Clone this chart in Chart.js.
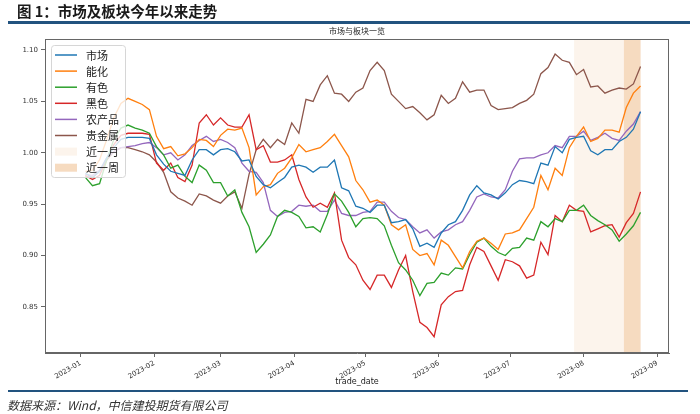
<!DOCTYPE html>
<html><head><meta charset="utf-8">
<script src="https://cdn.jsdelivr.net/npm/chart.js@4.4.0/dist/chart.umd.min.js"></script>
<style>
html,body{margin:0;padding:0;background:#fff;}
#wrap{position:relative;width:700px;height:414px;overflow:hidden;font-family:"Noto Sans CJK SC",sans-serif;}
#c{position:absolute;left:0;top:0;}
#hdr{position:absolute;left:17px;top:2px;font-size:14.5px;font-weight:bold;color:#1a1a1a;white-space:nowrap;line-height:18px;}
#rule1{position:absolute;left:8px;width:682px;top:21px;height:3px;background:#22537f;}
#rule2{position:absolute;left:8px;width:680px;top:390px;height:2px;background:#22537f;}
#ftr{position:absolute;left:7px;top:397px;font-size:12px;font-style:italic;color:#333;line-height:16px;white-space:nowrap;}
</style></head>
<body><div id="wrap"><canvas id="c" width="700" height="414"></canvas>
<div id="hdr">图 1：市场及板块今年以来走势</div><div id="rule1"></div><div id="rule2"></div>
<div id="ftr">数据来源：Wind，中信建投期货有限公司</div></div>
<script>
const dates = ['2023-01-03','2023-01-06','2023-01-09','2023-01-12','2023-01-15','2023-01-18','2023-01-21','2023-01-24','2023-01-27','2023-01-30',
'2023-02-02','2023-02-05','2023-02-08','2023-02-11','2023-02-14','2023-02-17','2023-02-20','2023-02-23','2023-02-26',
'2023-03-01','2023-03-04','2023-03-07','2023-03-10','2023-03-13','2023-03-16','2023-03-19','2023-03-22','2023-03-25','2023-03-28','2023-03-31',
'2023-04-03','2023-04-06','2023-04-09','2023-04-12','2023-04-15','2023-04-18','2023-04-21','2023-04-24','2023-04-27','2023-04-30',
'2023-05-03','2023-05-06','2023-05-09','2023-05-12','2023-05-15','2023-05-18','2023-05-21','2023-05-24','2023-05-27','2023-05-30',
'2023-06-02','2023-06-05','2023-06-08','2023-06-11','2023-06-14','2023-06-17','2023-06-20','2023-06-23','2023-06-26','2023-06-29',
'2023-07-02','2023-07-05','2023-07-08','2023-07-11','2023-07-14','2023-07-17','2023-07-20','2023-07-23','2023-07-26','2023-07-29',
'2023-08-01','2023-08-04','2023-08-07','2023-08-10','2023-08-13','2023-08-16','2023-08-19','2023-08-22','2023-08-25'];

const seriesNames = ['市场','能化','有色','黑色','农产品','贵金属'];
const seriesColors = ['#1f77b4','#ff7f0e','#2ca02c','#d62728','#9467bd','#8c564b'];

const market = [0.980,0.976,0.982,0.995,1.005,1.013,1.015,1.015,1.015,1.014,
0.998,0.989,0.982,0.980,0.978,0.993,1.003,1.003,0.998,
1.003,1.004,1.001,0.992,0.993,0.977,0.969,0.966,0.971,0.976,0.986,
0.988,0.986,0.981,0.986,0.986,0.993,0.966,0.963,0.948,0.946,
0.942,0.949,0.949,0.932,0.933,0.935,0.926,0.909,0.912,0.908,
0.922,0.930,0.933,0.944,0.959,0.968,0.961,0.959,0.955,0.961,
0.969,0.973,0.972,0.970,0.990,0.988,1.006,1.000,1.013,1.015,
1.016,1.002,0.998,1.003,1.003,1.011,1.015,1.023,1.040];

const energy = [0.982,0.983,0.993,1.013,1.034,1.048,1.053,1.050,1.047,1.042,
1.016,1.004,1.006,0.997,0.999,1.005,1.013,1.012,1.006,
1.017,1.023,1.022,1.024,1.005,0.959,0.967,0.969,0.980,0.985,0.995,
1.008,1.001,1.003,1.005,1.011,1.018,1.007,0.996,0.973,0.964,
0.952,0.954,0.949,0.930,0.925,0.930,0.906,0.900,0.902,0.891,
0.915,0.910,0.899,0.888,0.904,0.914,0.917,0.912,0.906,0.921,
0.922,0.925,0.936,0.947,0.978,0.964,0.985,0.978,1.005,1.016,
1.025,1.011,1.014,1.022,1.022,1.020,1.044,1.058,1.065];

const nonferrous = [0.976,0.968,0.970,0.993,1.013,1.024,1.027,1.024,1.022,1.019,
1.006,0.998,0.985,0.988,0.977,0.971,0.988,0.983,0.971,
0.971,0.958,0.964,0.942,0.928,0.903,0.911,0.920,0.938,0.944,0.942,
0.938,0.927,0.928,0.923,0.940,0.960,0.953,0.942,0.928,0.936,
0.937,0.936,0.929,0.910,0.893,0.886,0.876,0.861,0.873,0.874,
0.883,0.881,0.888,0.887,0.901,0.913,0.917,0.909,0.903,0.900,
0.907,0.908,0.917,0.915,0.933,0.928,0.936,0.933,0.944,0.944,
0.949,0.939,0.934,0.930,0.925,0.914,0.921,0.929,0.942];

const ferrous = [0.978,0.974,0.978,0.993,1.008,1.017,1.019,1.019,1.019,1.018,
0.990,0.983,0.990,0.976,0.972,0.988,1.029,1.037,1.027,
1.034,1.027,1.025,1.025,1.037,1.003,1.007,0.991,0.991,0.993,0.998,
0.974,0.957,0.947,0.951,0.947,0.961,0.915,0.898,0.891,0.876,
0.867,0.881,0.881,0.869,0.886,0.900,0.865,0.835,0.830,0.821,
0.852,0.860,0.865,0.866,0.891,0.908,0.904,0.890,0.876,0.896,
0.894,0.890,0.878,0.881,0.913,0.901,0.939,0.933,0.949,0.944,
0.943,0.923,0.926,0.929,0.930,0.918,0.932,0.941,0.962];

const agri = [0.979,0.978,0.983,0.995,1.001,1.005,1.006,1.007,1.009,1.010,
1.005,0.998,1.000,0.993,0.998,1.007,1.012,1.016,1.011,
1.013,1.010,1.005,0.990,0.982,0.981,0.971,0.944,0.938,0.942,0.943,
0.949,0.948,0.949,0.943,0.943,0.954,0.941,0.939,0.939,0.942,
0.943,0.952,0.952,0.943,0.937,0.935,0.928,0.922,0.925,0.917,
0.923,0.925,0.930,0.933,0.944,0.957,0.960,0.957,0.956,0.964,
0.982,0.994,0.995,0.995,0.998,1.000,1.007,1.005,1.016,1.016,
1.021,1.012,1.015,1.019,1.014,1.012,1.021,1.028,1.040];

const precious = [0.977,0.976,0.982,0.993,1.001,1.005,1.005,1.003,1.001,0.998,
0.991,0.981,0.962,0.956,0.953,0.949,0.960,0.958,0.954,
0.951,0.958,0.962,0.946,0.979,1.003,1.013,1.005,1.013,1.008,1.029,
1.019,1.052,1.050,1.066,1.075,1.058,1.057,1.050,1.059,1.063,
1.080,1.088,1.080,1.057,1.050,1.043,1.045,1.039,1.032,1.037,
1.056,1.048,1.053,1.069,1.059,1.061,1.061,1.046,1.042,1.043,
1.044,1.048,1.051,1.057,1.077,1.083,1.096,1.090,1.088,1.076,
1.081,1.064,1.065,1.058,1.061,1.063,1.062,1.067,1.084];

const seriesValues = [market, energy, nonferrous, ferrous, agri, precious];

const xTickLabels = ['2023-01','2023-02','2023-03','2023-04','2023-05','2023-06','2023-07','2023-08','2023-09'];
const yTicks = [0.85,0.90,0.95,1.00,1.05,1.10];
const monthSpan = ['2023-07-28','2023-08-25'];
const weekSpan = ['2023-08-18','2023-08-25'];
const spanNames = ['近一月','近一周'];
const spanColors = ['rgb(252,244,236)','rgb(246,219,192)'];
const xRange = ['2022-12-17','2023-09-06'];
const yRange = [0.8052, 1.1107];

function dayNum(s){const p=s.split('-').map(Number);return (Date.UTC(p[0],p[1]-1,p[2])-Date.UTC(2023,0,1))/86400000;}

const datasets = seriesNames.map((n,i)=>({
  label:n,
  data: dates.map((d,j)=>({x:dayNum(d), y:seriesValues[i][j]})),
  borderColor:seriesColors[i], borderWidth:1.3, pointRadius:0, fill:false, tension:0
}));

const deco = {
  id:'deco',
  beforeDatasetsDraw(chart){
    const {ctx, chartArea:a, scales:{x}} = chart;
    ctx.save();
    [monthSpan, weekSpan].forEach((sp,i)=>{
      const x0=x.getPixelForValue(dayNum(sp[0])), x1=x.getPixelForValue(dayNum(sp[1]));
      ctx.fillStyle=spanColors[i];
      ctx.fillRect(x0,a.top,x1-x0,a.bottom-a.top);
    });
    ctx.restore();
  },
  afterDatasetsDraw(chart){
    const {ctx, chartArea:a} = chart;
    ctx.save();
    // spines
    ctx.strokeStyle='#666'; ctx.lineWidth=1;
    ctx.strokeRect(a.left+0.5,a.top+0.5,a.right-a.left-1,a.bottom-a.top-1);
    // chart title
    ctx.fillStyle='#222'; ctx.font='8px "Noto Sans CJK SC"'; ctx.textAlign='center'; ctx.textBaseline='middle';
    ctx.fillText('市场与板块一览',(a.left+a.right)/2,a.top-8);
    // legend
    const lx=a.left+6, ly=a.top+6, lw=74, lh=132;
    ctx.beginPath();
    if(ctx.roundRect) ctx.roundRect(lx+0.5,ly+0.5,lw,lh,3); else ctx.rect(lx+0.5,ly+0.5,lw,lh);
    ctx.fillStyle='rgba(255,255,255,0.8)'; ctx.fill();
    ctx.strokeStyle='#d6d6d6'; ctx.lineWidth=1; ctx.stroke();
    ctx.font='11px "Noto Sans CJK SC"'; ctx.textAlign='left'; ctx.textBaseline='middle';
    const names = seriesNames.concat(spanNames);
    names.forEach((n,i)=>{
      const yy = ly+10+i*16.1;
      if(i<seriesNames.length){
        ctx.strokeStyle=seriesColors[i]; ctx.lineWidth=1.5;
        ctx.beginPath(); ctx.moveTo(lx+4,yy); ctx.lineTo(lx+26,yy); ctx.stroke();
      } else {
        ctx.fillStyle=spanColors[i-seriesNames.length];
        ctx.fillRect(lx+4,yy-4,22,8);
      }
      ctx.fillStyle='#222';
      ctx.fillText(n,lx+35,yy+0.5);
    });
    ctx.restore();
  }
};

new Chart(document.getElementById('c'),{
  type:'line',
  data:{datasets},
  options:{
    responsive:false, animation:false, parsing:true,
    layout:{padding:{left:0,right:31,top:39,bottom:26}},
    plugins:{legend:{display:false},tooltip:{enabled:false},title:{display:false}},
    scales:{
      x:{type:'linear', min:dayNum(xRange[0]), max:dayNum(xRange[1]),
        afterFit(s){s.height=35;},
        afterBuildTicks(s){s.ticks=xTickLabels.map(l=>({value:dayNum(l+'-01')}));},
        ticks:{autoSkip:false,maxRotation:30,minRotation:30,padding:2,color:'#333',
          font:{family:'DejaVu Sans',size:7},
          callback:(v,i)=>xTickLabels[i]},
        grid:{display:true,drawOnChartArea:false,drawTicks:true,tickLength:4,color:'#666'},
        border:{display:true,color:'#666'},
        title:{display:true,text:'trade_date',color:'#222',font:{family:'DejaVu Sans',size:8},padding:{top:0,bottom:1}}
      },
      y:{type:'linear', min:yRange[0], max:yRange[1],
        afterFit(s){s.width=45;},
        afterBuildTicks(s){s.ticks=yTicks.map(v=>({value:v}));},
        ticks:{padding:3,color:'#333',font:{family:'DejaVu Sans',size:7},callback:v=>v.toFixed(2)},
        grid:{display:true,drawOnChartArea:false,drawTicks:true,tickLength:4,color:'#666'},
        border:{display:true,color:'#666'}
      }
    }
  },
  plugins:[deco]
});
</script>
</body></html>
